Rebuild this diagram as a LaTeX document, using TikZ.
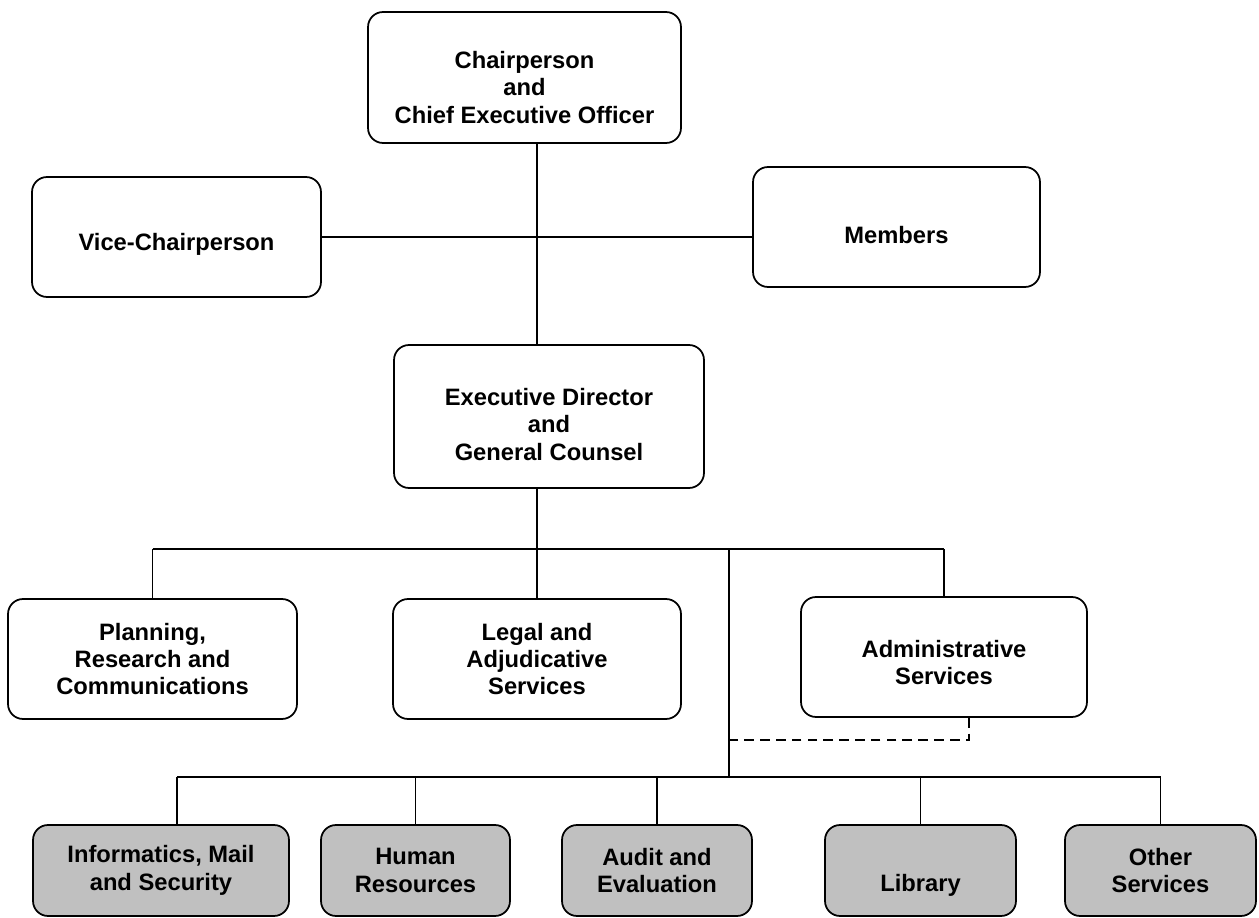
\documentclass[tikz,border=0pt]{standalone}
\usepackage{fontspec}
\setmainfont{Liberation Sans}
\usetikzlibrary{calc}

\definecolor{unitgray}{RGB}{192,192,192}
\newcommand{\toprule}[1][18.5pt]{\rule{0pt}{#1}}

\begin{document}
\begin{tikzpicture}[x=0.02cm, y=-0.02cm,
    every node/.style={font=\bfseries\fontsize{13.5}{15.6}\selectfont, align=center},
    unit/.style={draw, line width=1pt, rounded corners=0.3cm, inner sep=2pt},
    lowtext/.style={execute at begin node={\rule{0pt}{18.5pt}}},
    service/.style={unit, fill=unitgray},
    link/.style={line width=1pt},
    sublink/.style={line width=1pt, dash pattern=on 5.5pt off 3.5pt}]
  \useasboundingbox (0,0) rectangle (1259,918);

  %--- Leitung
  \node[unit, minimum width=6.26cm, minimum height=2.62cm] (chair) at (524.5,77.5)
    {\toprule[21pt]Chairperson\\and\\Chief Executive Officer};
  \node[unit, lowtext, minimum width=5.78cm, minimum height=2.40cm] (vice) at (176.5,237)
    {Vice-Chairperson};
  \node[unit, lowtext, minimum width=5.74cm, minimum height=2.40cm] (members) at (896.5,227)
    {Members};
  \node[unit, minimum width=6.20cm, minimum height=2.86cm] (exec) at (549,416.5)
    {\toprule Executive Director\\and\\General Counsel};

  %--- Abteilungen
  \node[unit, minimum width=5.78cm, minimum height=2.40cm] (plan) at (152.5,659)
    {Planning,\\Research and\\Communications};
  \node[unit, minimum width=5.76cm, minimum height=2.40cm] (legal) at (537,659)
    {Legal and\\Adjudicative\\Services};
  \node[unit, minimum width=5.72cm, minimum height=2.40cm] (admin) at (944,657)
    {\toprule[16pt]Administrative\\Services};

  %--- Dienste (grau)
  \node[service, minimum width=5.12cm, minimum height=1.82cm] (info) at (161,870.5)
    {Informatics, Mail\\and Security};
  \node[service, minimum width=3.78cm, minimum height=1.82cm] (hr) at (415.5,870.5)
    {Human\\Resources};
  \node[service, minimum width=3.80cm, minimum height=1.82cm] (audit) at (657,870.5)
    {Audit and\\Evaluation};
  \node[service, minimum width=3.82cm, minimum height=1.82cm] (lib) at (920.5,870.5)
    {\strut\\Library};
  \node[service, minimum width=3.82cm, minimum height=1.82cm] (other) at (1160.5,870.5)
    {Other\\Services};

  %--- Hilfspunkte
  \coordinate (trunk) at (537,549);
  \coordinate (split) at (729,549);
  \coordinate (low)   at (729,777);
  \coordinate (dash)  at (729,740);

  %--- Verbindungen
  \draw[link] (chair.south -| trunk) -- (exec.north -| trunk);
  \draw[link] (vice.east) -- (vice.east -| members.west);
  \draw[link] (exec.south -| trunk) -- (trunk);
  \draw[link] (plan.north |- trunk) -- (admin.north |- trunk);
  \draw[link] (plan.north |- trunk) -- (plan.north);
  \draw[link] (trunk) -- (legal.north);
  \draw[link] (admin.north |- trunk) -- (admin.north);
  \draw[link] (split) -- (low);
  \draw[link] ([xshift=0.32cm]info.north |- low) -- (other.north |- low);
  \draw[link] ([xshift=0.32cm]info.north |- low) -- ([xshift=0.32cm]info.north);
  \foreach \n in {hr,audit,lib,other}
    \draw[link] (\n.north |- low) -- (\n.north);

  % gestrichelte Zuordnung
  \draw[sublink] ([xshift=0.5cm]admin.south) |- (dash);
\end{tikzpicture}
\end{document}
